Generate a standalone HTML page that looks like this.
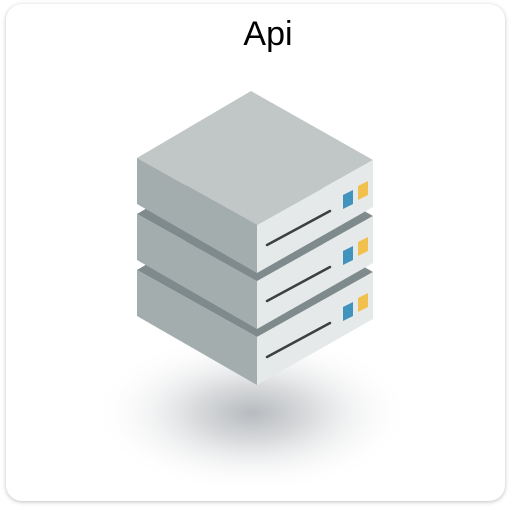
<!DOCTYPE html>
<html><head><style>
html,body{margin:0;padding:0;background:#fff;width:512px;height:512px;overflow:hidden}
.card{position:absolute;left:6px;top:4px;width:499px;height:497px;border-radius:16px;background:#fff;box-shadow:0 1px 4px rgba(0,0,0,0.25)}
.t{position:absolute;left:12px;width:512px;top:15px;text-align:center;font:34px "Liberation Sans",sans-serif;color:#000}
svg{position:absolute;left:0;top:0}
</style></head><body>
<div class="card"></div>
<div class="t">Api</div>
<svg width="512" height="512" viewBox="0 0 512 512">
<defs>
<radialGradient id="sh" cx="0.5" cy="0.5" r="0.5">
<stop offset="0" stop-color="#b8bbbf"/>
<stop offset="0.35" stop-color="#d8dadc"/>
<stop offset="1" stop-color="#ffffff" stop-opacity="0"/>
</radialGradient>
</defs>
<ellipse cx="252" cy="413" rx="160" ry="80" fill="url(#sh)"/>
<g transform="translate(0,112)">
<polygon points="251,91 137,158 257,225 373,160" fill="#7e8a8b"/>
<polygon points="137,158 257,225 257,273 137,204" fill="#a3adad"/>
<polygon points="257,225 373,160 373,207 257,273" fill="#e6e9ea"/>
<line x1="267" y1="245" x2="330" y2="211" stroke="#3c4042" stroke-width="2.5" stroke-linecap="round"/>
<polygon points="343,195 353,190 353,204 343,209" fill="#3f93bd"/>
<polygon points="358,186 368,181 368,195 358,200" fill="#f0c14f"/>
</g>
<g transform="translate(0,56)">
<polygon points="251,91 137,158 257,225 373,160" fill="#7e8a8b"/>
<polygon points="137,158 257,225 257,273 137,204" fill="#a3adad"/>
<polygon points="257,225 373,160 373,207 257,273" fill="#e6e9ea"/>
<line x1="267" y1="245" x2="330" y2="211" stroke="#3c4042" stroke-width="2.5" stroke-linecap="round"/>
<polygon points="343,195 353,190 353,204 343,209" fill="#3f93bd"/>
<polygon points="358,186 368,181 368,195 358,200" fill="#f0c14f"/>
</g>
<g>
<polygon points="251,91 137,158 257,225 373,160" fill="#c1c6c7"/>
<polygon points="137,158 257,225 257,273 137,204" fill="#a3adad"/>
<polygon points="257,225 373,160 373,207 257,273" fill="#e6e9ea"/>
<line x1="267" y1="245" x2="330" y2="211" stroke="#3c4042" stroke-width="2.5" stroke-linecap="round"/>
<polygon points="343,195 353,190 353,204 343,209" fill="#3f93bd"/>
<polygon points="358,186 368,181 368,195 358,200" fill="#f0c14f"/>
</g>
</svg>
</body></html>
